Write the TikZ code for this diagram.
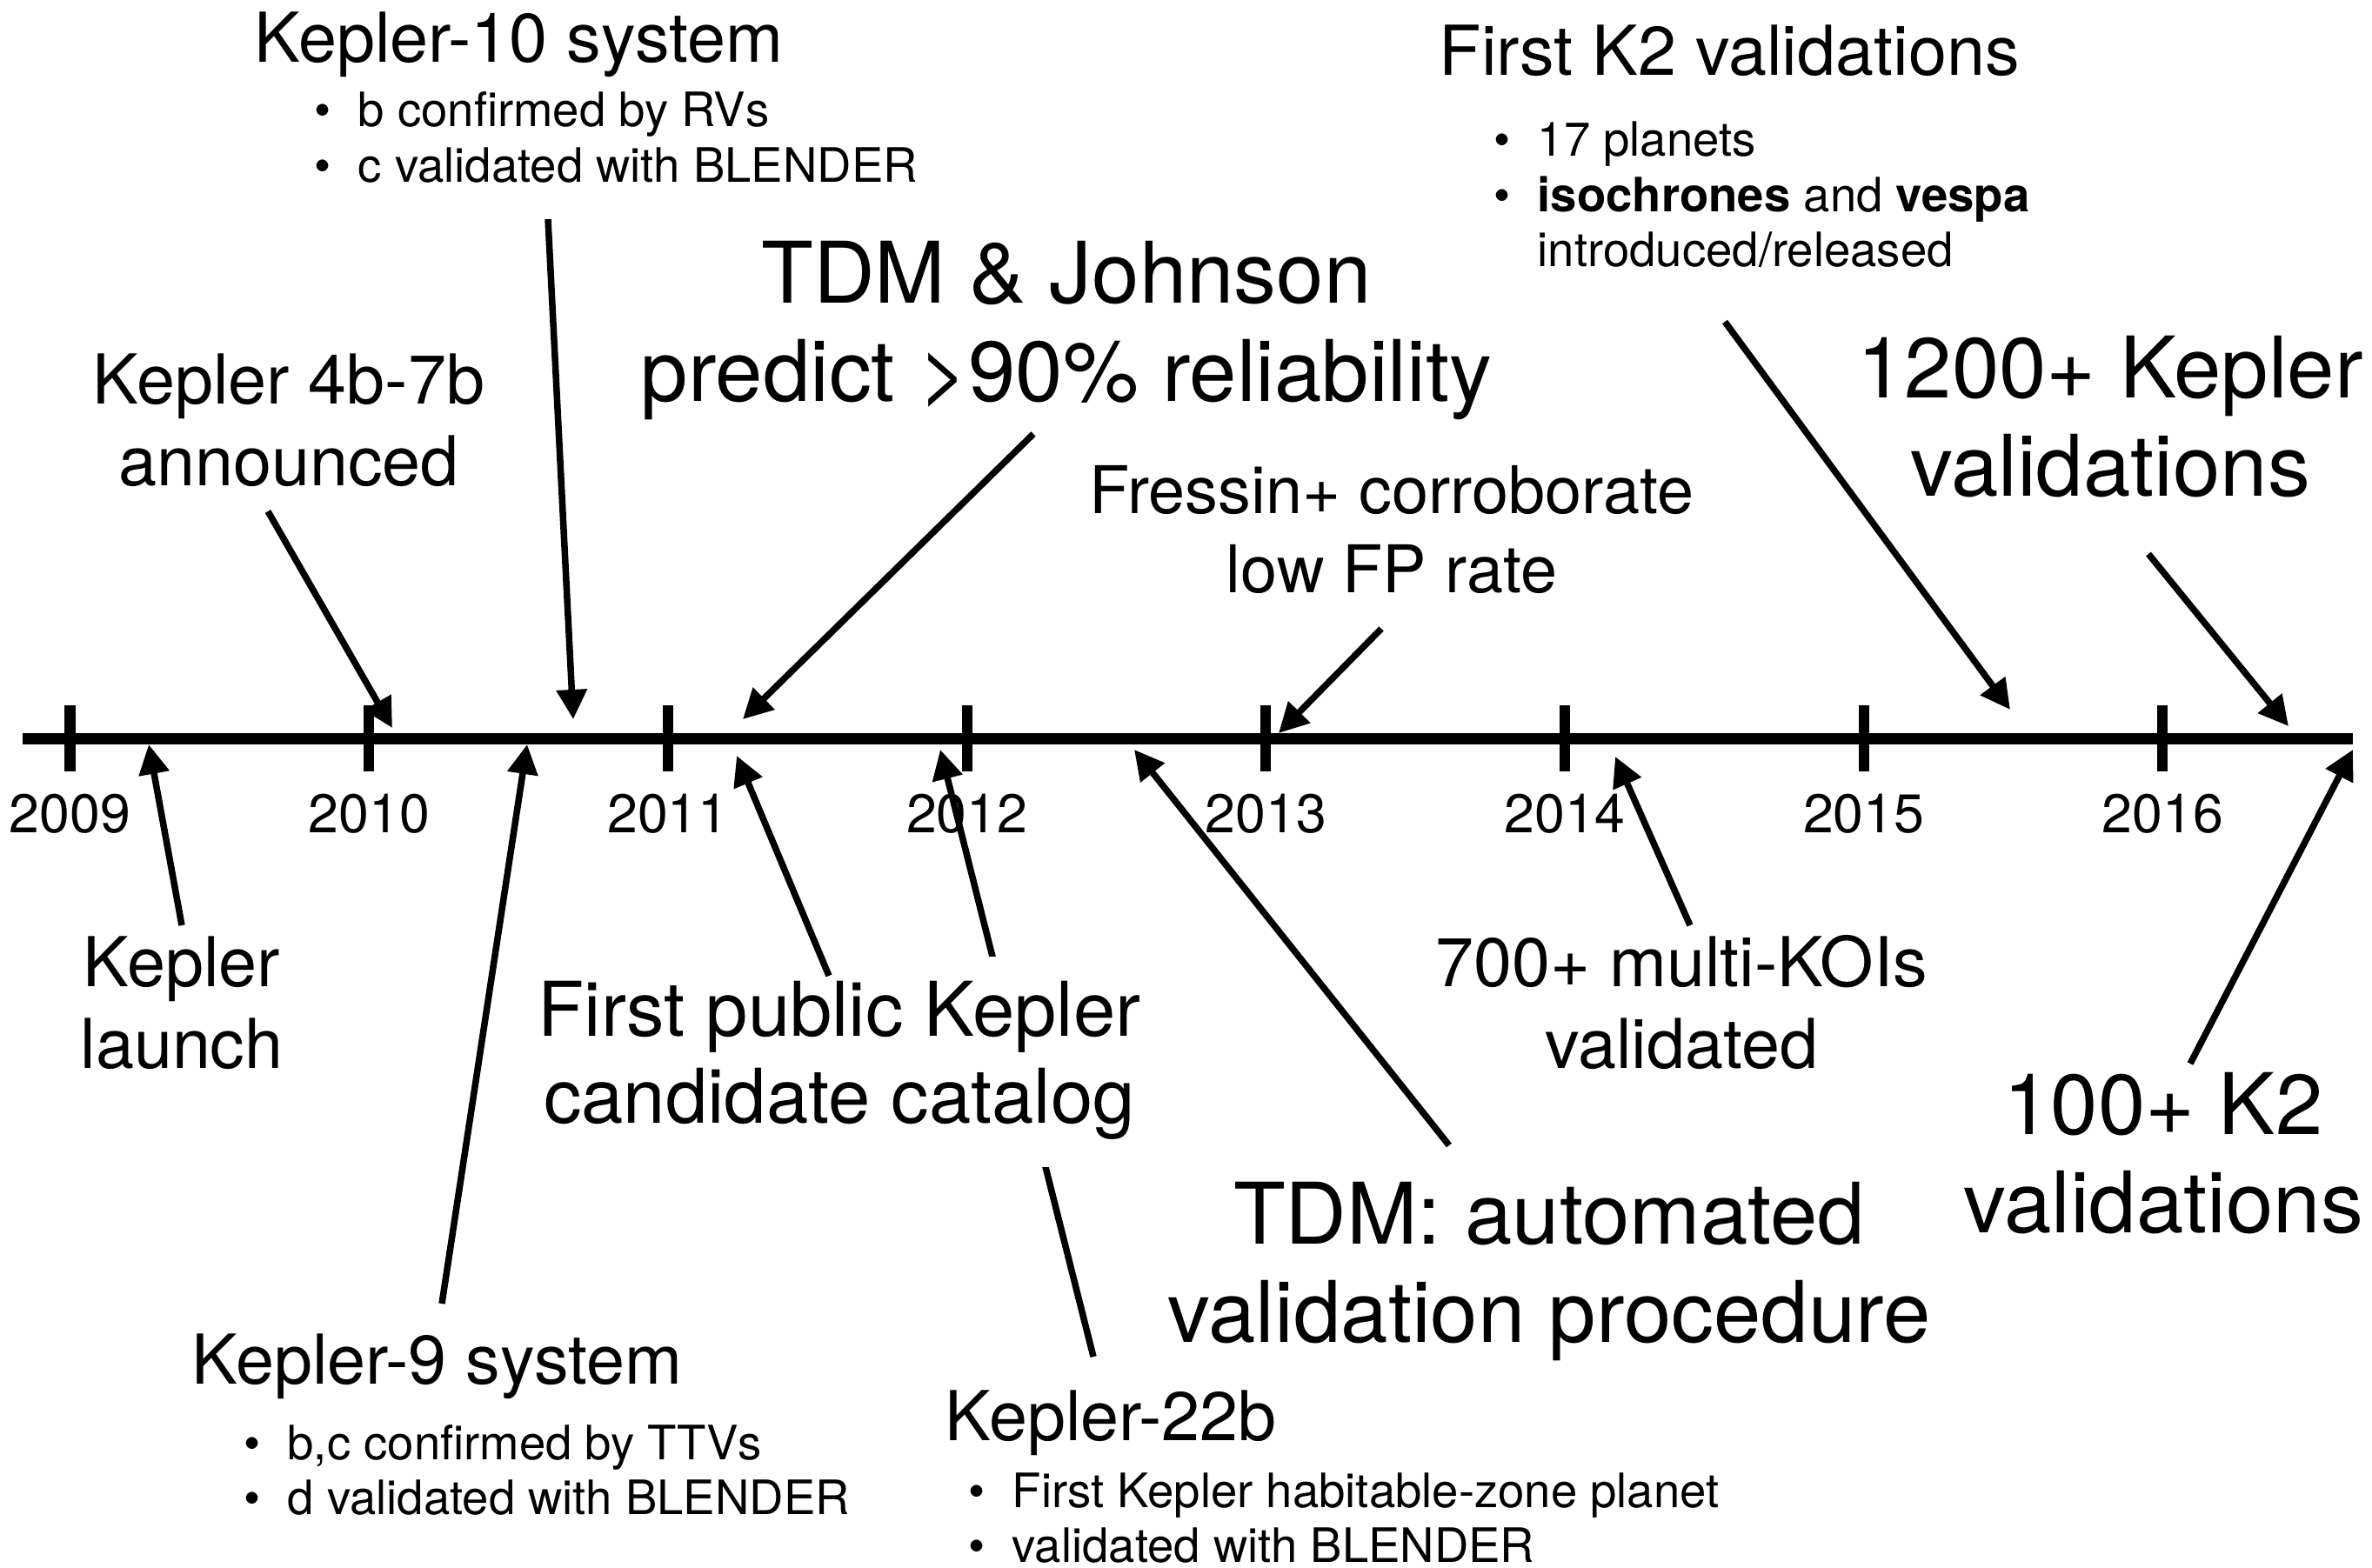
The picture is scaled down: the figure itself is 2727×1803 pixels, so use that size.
\documentclass[tikz,border=0pt]{standalone}
\usepackage{fontspec}
\setmainfont{TeX Gyre Heros}
\usetikzlibrary{arrows.meta}
\newcommand{\mlines}[1]{\begin{tabular}[t]{@{}c@{}}#1\end{tabular}}
\newcommand{\blines}[1]{\begin{tabular}[t]{@{}l@{}}#1\end{tabular}}
\newcommand{\bpt}{\makebox[0.5cm][l]{\textbullet}}
\begin{document}
\begin{tikzpicture}[x=0.01cm,y=-0.01cm,
  axisline/.style={line width=0.13cm},
  tickmark/.style={line width=0.12cm},
  yearlbl/.style={anchor=base, inner sep=0pt, font=\fontsize{17.8}{21}\selectfont},
  medlbl/.style={anchor=base, inner sep=0pt, font=\fontsize{22.5}{27}\selectfont},
  freslbl/.style={anchor=base, inner sep=0pt, font=\fontsize{21.5}{26}\selectfont},
  catlbl/.style={anchor=base, inner sep=0pt, font=\fontsize{24.7}{28.7}\selectfont},
  biglbl/.style={anchor=base, inner sep=0pt, font=\fontsize{27.8}{32.2}\selectfont},
  bulletlist/.style={anchor=base west, inner sep=0pt, font=\fontsize{15.5}{18}\selectfont},
  arr/.style={line width=0.075cm, -{Triangle[length=0.34cm,width=0.34cm]}},
]
\useasboundingbox (0,0) rectangle (2727,1803);

% timeline
\coordinate (tlstart) at (26,849);
\coordinate (tlend) at (2705,849);
\draw[axisline] (tlstart) -- (tlend);
\foreach \i/\yr in {0/2009,1/2010,2/2011,3/2012,4/2013,5/2014,6/2015,7/2016}{
  \pgfmathsetmacro\tx{80.5+343.7*\i}
  \draw[tickmark] (\tx,811) -- (\tx,887);
  \node[yearlbl] (y\yr) at (\tx,957) {\yr};
}

% labels above
\node[medlbl, anchor=base west] (k10) at (292,72) {Kepler-10 system};
\node[bulletlist] (k10b) at (361,146) {\blines{\bpt b confirmed by RVs\\ \bpt c validated with BLENDER}};
\node[medlbl] (k47) at (332,464) {\mlines{Kepler 4b-7b\\announced}};
\node[biglbl] (tdmj) at (1226,348) {\mlines{TDM \& Johnson\\predict >90\% reliability}};
\node[freslbl] (fres) at (1600,590) {\mlines{Fressin+ corroborate\\low FP rate}};
\node[medlbl, anchor=base west] (k2) at (1654,87) {First K2 validations};
\node[bulletlist] (k2b) at (1717,180) {\blines{\bpt 17 planets\\ \bpt \textbf{isochrones} and \textbf{vespa}\\ \hspace{0.5cm}introduced/released}};
\node[biglbl] (k12) at (2426,457) {\mlines{1200+ Kepler\\validations}};

% labels below
\node[medlbl] (launch) at (209,1134) {\mlines{Kepler\\launch}};
\node[medlbl] (multi) at (1933,1134) {\mlines{700+ multi-KOIs\\validated}};
\node[biglbl] (tdma) at (1781,1430) {\mlines{TDM: automated\\validation procedure}};
\node[biglbl] (k2v) at (2487,1304) {\mlines{100+ K2\\validations}};
\node[medlbl, anchor=base west] (k9) at (220,1591) {Kepler-9 system};
\node[bulletlist] (k9b) at (280,1678) {\blines{\bpt b,c confirmed by TTVs\\ \bpt d validated with BLENDER}};
\node[medlbl, anchor=base west] (k22) at (1086,1656) {Kepler-22b};
\node[bulletlist] (k22b) at (1113,1733) {\blines{\bpt First Kepler habitable-zone planet\\ \bpt validated with BLENDER}};

% arrow end points
\coordinate (k10t) at (630,252);   \coordinate (k10h) at (659,827);
\coordinate (k47t) at (308,588);   \coordinate (k47h) at (451,837);
\coordinate (tdmjt) at (1188,499); \coordinate (tdmjh) at (854,827);
\coordinate (frest) at (1588,723); \coordinate (fresh) at (1470,843);
\coordinate (k2t) at (1983,370);   \coordinate (k2h) at (2311,816);
\coordinate (k12t) at (2470,637);  \coordinate (k12h) at (2631,835);
\coordinate (launcht) at (209,1064); \coordinate (launchh) at (171,856);
\coordinate (k9t) at (508,1499);   \coordinate (k9h) at (606,856);
\coordinate (catt) at (953,1122);  \coordinate (cath) at (847,869);
\coordinate (k22t) at (1257,1560); \coordinate (k22h) at (1081,862);
\coordinate (tdmat) at (1666,1317); \coordinate (tdmah) at (1304,862);
\coordinate (multit) at (1943,1064); \coordinate (multih) at (1857,870);
\coordinate (k2vt) at (2518,1223); \coordinate (k2vh) at (2705,862);

% Kepler-22b arrow runs behind the catalog label
\draw[arr] (k22t) -- (k22h);
\node[catlbl, fill=white, inner xsep=0.02cm, inner ysep=0.2cm] (cat) at (965,1191) {\mlines{First public Kepler\\candidate catalog}};

\draw[arr] (k10t) -- (k10h);
\draw[arr] (k47t) -- (k47h);
\draw[arr] (tdmjt) -- (tdmjh);
\draw[arr] (frest) -- (fresh);
\draw[arr] (k2t) -- (k2h);
\draw[arr] (k12t) -- (k12h);
\draw[arr] (launcht) -- (launchh);
\draw[arr] (k9t) -- (k9h);
\draw[arr] (catt) -- (cath);
\draw[arr] (tdmat) -- (tdmah);
\draw[arr] (multit) -- (multih);
\draw[arr] (k2vt) -- (k2vh);
\end{tikzpicture}
\end{document}
